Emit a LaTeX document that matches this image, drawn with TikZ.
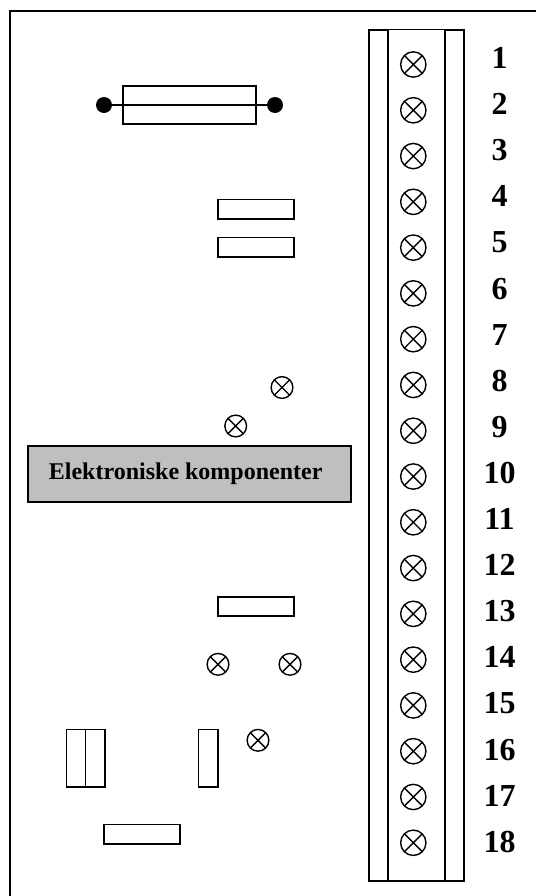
\documentclass[tikz,border=0pt]{standalone}
\usepackage{fontspec}
\setmainfont{Liberation Serif}
\tikzset{
  part/.style={draw=black,line width=1.25pt,fill=white,rectangle,inner sep=0pt},
  hpart/.style={part,minimum width=57pt,minimum height=14.5pt},
  vpart/.style={part,minimum width=14.5pt,minimum height=43pt},
  screw/.style={draw=black,line width=1.05pt,circle,inner sep=0pt,fill=white,
    path picture={\draw[line width=1.05pt] (path picture bounding box.north west)--(path picture bounding box.south east)
      (path picture bounding box.north east)--(path picture bounding box.south west);}},
  bigscrew/.style={screw,minimum size=19pt},
  smallscrew/.style={screw,minimum size=16.3pt},
  num/.style={font=\bfseries\fontsize{24}{24}\selectfont,inner sep=0pt,anchor=base},
  dot/.style={circle,fill=black,inner sep=0pt,minimum size=12pt},
  frameline/.style={line width=1.5pt}
}
\begin{document}
\begin{tikzpicture}[x=0.75pt,y=-0.75pt]
\useasboundingbox (0,0) rectangle (536,896);
\fill[white] (0,0) rectangle (536,896);
% outer frame (open to the right and below)
\draw[frameline] (9.5,896) -- (9.5,10.5) -- (536,10.5);
% terminal strip
\node[part,line width=1.5pt,minimum width=71pt,minimum height=638.5pt] (strip) at (416.7,455.3) {};
\node[part,minimum width=42.75pt,minimum height=638.5pt] (stripin) at (416.8,455.3) {};
% fuse
\node[part,minimum width=99.5pt,minimum height=28.5pt] (fuse) at (189.5,105) {};
\node[dot] (fl) at (104,105) {};
\node[dot] (fr) at (275,105) {};
\draw[line width=1.25pt] (fl) -- (fr);
% small rectangles
\node[hpart] (r1) at (256,209) {};
\node[hpart] (r2) at (256,247) {};
\node[hpart] (r3) at (256,606.5) {};
\node[hpart] (r4) at (142,834) {};
\node[vpart] (v1) at (76,758) {};
\node[vpart] (v2) at (95,758) {};
\node[vpart] (v3) at (208,758) {};
% grey box
\node[part,line width=1.5pt,fill=black!25,minimum width=242.5pt,minimum height=42.5pt] (box) at (189.5,474) {};
\node[font=\bfseries\fontsize{18}{20}\selectfont,inner sep=0pt,anchor=base] (boxt) at (185.7,479) {Elektroniske komponenter};
% loose screws
\node[smallscrew] (s1) at (282,387.5) {};
\node[smallscrew] (s2) at (235.7,426) {};
\node[smallscrew] (s3) at (218,664.3) {};
\node[smallscrew] (s4) at (290,664.3) {};
\node[smallscrew] (s5) at (258,740.3) {};
% terminals
\foreach \i in {1,...,18}{
  \node[bigscrew] (t\i) at (413.3,{64.5+(\i-1)*45.78}) {};
  \node[num] (n\i) at (499.5,{68.5+(\i-1)*46.1}) {\i};
}
\end{tikzpicture}
\end{document}
